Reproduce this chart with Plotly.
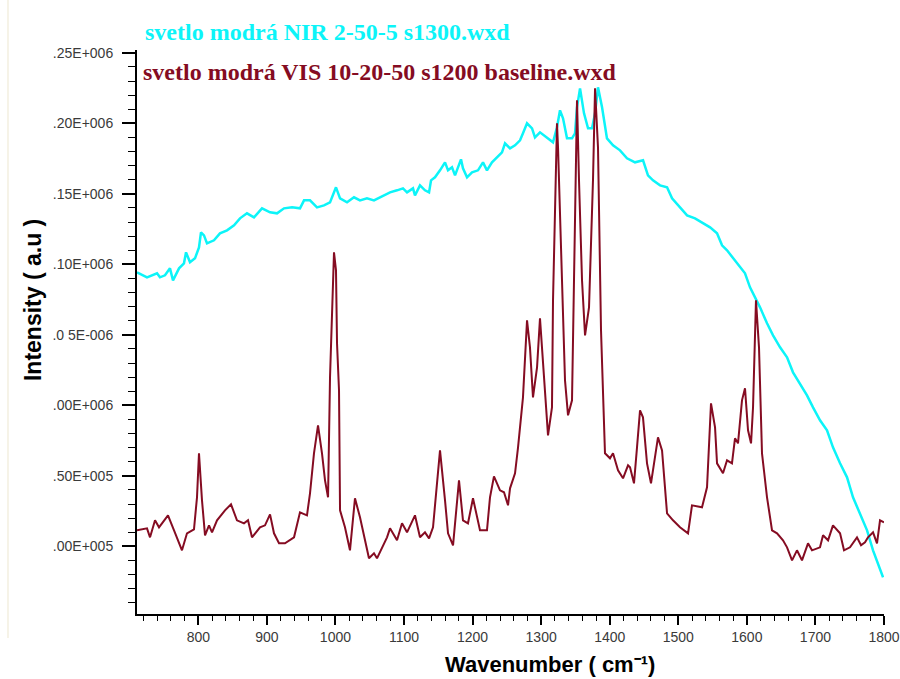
import plotly.graph_objects as go

# ---- data ----
vis_wavenumber = [
    710.6, 725.2, 729.6, 736.9, 742.7, 755.8, 764.6, 776.2, 783.5, 793.7,
    798.1, 801.0, 805.4, 809.8, 815.6, 820.0, 827.3, 838.9, 847.7, 856.4,
    866.6, 872.5, 878.3, 890.0, 897.3, 904.6, 910.4, 917.7, 926.4, 939.6,
    948.3, 958.5, 962.9, 968.7, 974.6, 980.4, 984.8, 989.2, 992.1, 997.9,
    1000.8, 1002.3, 1005.2, 1006.7, 1013.9, 1021.2, 1028.5, 1035.8, 1048.9, 1056.2,
    1060.6, 1067.9, 1075.2,
    1079.6, 1089.8, 1097.1, 1104.4, 1116.0, 1123.3, 1130.6, 1136.5, 1142.3, 1148.1,
    1152.5, 1159.8, 1164.2, 1171.5, 1177.3, 1180.2, 1186.0, 1193.3, 1200.6, 1206.5,
    1210.8, 1221.0, 1225.4, 1231.2, 1240.0, 1245.8, 1251.7, 1254.6, 1261.9, 1266.3,
    1273.5, 1279.4, 1283.7, 1288.1, 1294.0, 1298.3, 1302.7, 1310.0, 1315.8, 1317.3,
    1323.1, 1324.6, 1330.4, 1334.8, 1339.2, 1345.0, 1347.9, 1352.3, 1355.2, 1359.6,
    1364.0, 1369.8, 1375.6, 1378.6, 1382.9, 1387.3, 1393.1, 1400.4, 1404.8, 1412.1,
    1419.4, 1426.7,
    1429.6, 1435.4, 1439.8, 1444.2, 1448.5, 1454.4, 1460.2, 1466.1, 1470.4, 1476.3,
    1483.6, 1492.3, 1502.5, 1514.2, 1520.0, 1534.6, 1541.9, 1547.7, 1553.6, 1556.5,
    1565.2, 1571.1, 1578.3, 1582.7, 1587.1, 1592.9, 1597.3, 1601.7, 1606.1, 1609.0,
    1613.3, 1617.7, 1622.1, 1629.4, 1636.7, 1644.0, 1652.7, 1658.6, 1665.9, 1673.1,
    1680.4, 1689.2, 1695.0, 1706.7, 1711.1, 1718.4, 1725.6, 1735.9, 1741.7, 1750.4,
    1760.6, 1766.5, 1772.3, 1776.7, 1784.0, 1789.8, 1794.2, 1800.0,
]
vis_intensity = [
    911350, 912770, 906380, 918440, 913470, 921990, 911350, 897160, 909220, 912060,
    934750, 965960, 932620, 907800, 914890, 909930, 918440, 925530, 929790, 918440,
    916310, 918440, 906380, 913470, 914890, 922690, 909220, 902130, 902130, 906380,
    924110, 921990, 937590, 965960, 985810, 965960, 946810, 934750, 1019850, 1108500,
    1095740, 1043970, 1010640, 925530, 913470, 897160, 934040, 920570, 891490, 895040,
    891490, 899290, 906380,
    912770, 904260, 916310, 909930, 921990, 906380, 909930, 905670, 913470, 941840,
    968080, 932620, 909220, 900710, 930500, 946810, 918440, 916310, 934040, 920570,
    911350, 911350, 934750, 949640, 939720, 938300, 929080, 941130, 951770, 970210,
    1005670, 1060280, 1041130, 1005670, 1026950, 1061700, 1029780, 978720, 998580, 1074460,
    1200000, 1182970, 1088650, 1017730, 992910, 1003540, 1088650, 1216300, 1159570, 1088650,
    1049640, 1069500, 1159570, 1224810, 1182970, 1053190, 965960, 962410, 965960, 953900,
    948230, 957450,
    956030, 944680, 970210, 996450, 991490, 958860, 944680, 963120, 977300, 968080,
    923400, 918440, 913470, 909220, 929080, 927660, 941840, 1001420, 984390, 958860,
    951770, 960990, 958860, 976590, 973050, 1003540, 1012050, 982270, 973050, 998580,
    1074460, 1041130, 965960, 934750, 911350, 909220, 904260, 899290, 890070, 897160,
    890070, 902130, 897160, 899290, 907800, 904260, 914890, 909220, 897160, 899290,
    906380, 900710, 902840, 906380, 909930, 902130, 918440, 917020,
]

nir_wavenumber = [
    710.6, 725.2, 739.8, 744.1, 751.4, 758.7, 763.1, 771.9, 779.1, 782.1,
    787.9, 795.2, 801.0, 803.9, 808.3, 812.7, 822.9, 831.6, 841.9, 852.1,
    860.8, 871.0, 881.2, 892.9, 904.6, 914.8, 925.0, 936.7, 948.3, 954.2,
    962.9, 973.1, 983.3, 992.1, 1000.8, 1006.7, 1016.9, 1027.1, 1035.8, 1046.0,
    1056.2, 1065.0, 1075.2,
    1079.6, 1089.8, 1098.5, 1104.4, 1113.1, 1116.0, 1123.3, 1130.6, 1136.5, 1139.4,
    1145.2, 1152.5, 1159.8, 1164.2, 1170.0, 1174.4, 1183.1, 1186.0, 1191.9, 1199.2,
    1207.9, 1215.2, 1221.0, 1228.3, 1235.6, 1242.9, 1247.3, 1254.6, 1261.9, 1269.2,
    1273.5, 1279.4, 1286.7, 1291.0, 1298.3,
    1308.5, 1317.3, 1323.1, 1327.5, 1331.9, 1337.7, 1345.0,
    1349.4, 1352.3, 1356.7, 1362.5, 1368.4, 1374.2, 1378.6, 1382.9, 1388.8, 1396.0,
    1404.8, 1415.0,
    1425.2, 1436.9, 1448.6, 1455.8, 1463.1, 1473.4, 1483.6, 1490.9, 1499.6, 1512.8,
    1524.4, 1536.1, 1546.3, 1556.5, 1563.8, 1571.1, 1579.9, 1590.1, 1597.3, 1604.6,
    1611.9, 1619.2, 1629.4, 1638.2, 1648.4, 1658.6, 1667.3, 1677.5, 1687.7, 1696.5,
    1706.7, 1716.9, 1725.6, 1735.9, 1746.1, 1754.8, 1765.0, 1775.3, 1784.0, 1791.3,
    1798.6,
]
nir_intensity = [
    1094320, 1090770, 1093610, 1090770, 1092190, 1097160, 1088650, 1097160, 1100700, 1108500,
    1101410, 1104250, 1112050, 1122690, 1120560, 1114890, 1117020, 1121980, 1124110, 1127650,
    1132620, 1136160, 1133330, 1139710, 1136870, 1136160, 1139710, 1140420, 1139710, 1145380,
    1145380, 1140420, 1141840, 1143960, 1154600, 1146800, 1143960, 1147510, 1145380, 1146800,
    1145380, 1147510, 1150350,
    1151060, 1152480, 1153890, 1151060, 1153890, 1148930, 1156020, 1152480, 1151060, 1159570,
    1161700, 1166660, 1172330, 1166660, 1168790, 1163110, 1174460, 1168080, 1161700, 1165240,
    1166660, 1172330, 1166660, 1172330, 1175880, 1179420, 1185810, 1182260, 1184390, 1187940,
    1192900, 1200000, 1196450, 1190060, 1193610,
    1190060, 1186520, 1197150, 1209210, 1203540, 1189350, 1189350,
    1192900, 1211340, 1224810, 1207080, 1196450, 1196450, 1207080, 1225520, 1211340, 1189350,
    1184390, 1180840,
    1175170, 1172330, 1173750, 1163110, 1159570, 1156020, 1154600, 1146800, 1141840, 1134750,
    1132620, 1129070, 1126230, 1121980, 1113470, 1109920, 1104250, 1097870, 1093610, 1083680,
    1076590, 1069500, 1058150, 1049640, 1041130, 1034040, 1023400, 1015600, 1007090, 998580,
    989360, 982270, 970210, 958860, 948930, 934750, 923400, 911350, 897160, 887940,
    878010,
]

x_ticks = [800, 900, 1000, 1100, 1200, 1300, 1400, 1500, 1600, 1700, 1800]
y_tickvals = [900000, 950000, 1000000, 1050000, 1100000, 1150000, 1200000, 1250000]
y_ticktext = [".00E+005", ".50E+005", ".00E+006", ".0 5E-006",
              ".10E+006", ".15E+006", ".20E+006", ".25E+006"]

name_nir = "svetlo modrá NIR 2-50-5 s1300.wxd"
name_vis = "svetlo modrá VIS 10-20-50 s1200 baseline.wxd"

CYAN = "#0CF4F8"
RED = "#850C22"

fig = go.Figure()
fig.add_trace(go.Scatter(x=nir_wavenumber, y=nir_intensity, mode="lines",
                         line=dict(color=CYAN, width=2.5), name=name_nir))
fig.add_trace(go.Scatter(x=vis_wavenumber, y=vis_intensity, mode="lines",
                         line=dict(color=RED, width=2), name=name_vis))

x_tick_font = dict(family="Liberation Sans, Arial, sans-serif", size=14, color="#3a3a3a")
y_tick_font = dict(family="Liberation Sans, Arial, sans-serif", size=14, color="#3a3a3a")

fig.update_layout(
    width=900, height=679,
    margin=dict(l=137, r=16, t=50, b=65),
    paper_bgcolor="white", plot_bgcolor="white",
    showlegend=False,
    xaxis=dict(
        range=[710.6, 1800], tickvals=x_ticks, ticks="outside", ticklen=9,
        tickwidth=2, tickcolor="black", showline=True, linecolor="black",
        linewidth=2, showgrid=False, zeroline=False, tickfont=x_tick_font,
        automargin=False,
        minor=dict(dtick=20, tick0=700, ticks="outside", ticklen=5,
                   tickcolor="black", tickwidth=1, showgrid=False),
    ),
    yaxis=dict(
        range=[852000, 1252000], tickvals=y_tickvals, ticktext=y_ticktext,
        ticks="outside", ticklen=13, tickwidth=2, tickcolor="black",
        showline=True, linecolor="black", linewidth=2, showgrid=False,
        zeroline=False, tickfont=y_tick_font, automargin=False,
        ticklabelstandoff=6,
        minor=dict(dtick=10000, tick0=850000, ticks="outside", ticklen=7,
                   tickcolor="black", tickwidth=1, showgrid=False),
    ),
)

annots = [
    dict(text="<b>" + name_nir + "</b>", x=0.008, y=1.032, xref="paper", yref="paper",
         xanchor="left", yanchor="middle", showarrow=False,
         font=dict(family="Liberation Serif, Times New Roman, serif", size=24, color=CYAN)),
    dict(text="<b>" + name_vis + "</b>", x=0.0054, y=0.961, xref="paper", yref="paper",
         xanchor="left", yanchor="middle", showarrow=False,
         font=dict(family="Liberation Serif, Times New Roman, serif", size=24, color=RED)),
    dict(text="<b>Intensity ( a.u )</b>", x=-0.139, y=0.557, xref="paper", yref="paper",
         xanchor="center", yanchor="middle", textangle=-90, showarrow=False,
         font=dict(family="Liberation Sans, Arial, sans-serif", size=23, color="black")),
    dict(text="<b>Wavenumber ( cm⁻¹)</b>", x=0.553, y=-0.0887, xref="paper",
         yref="paper", xanchor="center", yanchor="middle", showarrow=False,
         font=dict(family="Liberation Sans, Arial, sans-serif", size=22, color="black")),
]
fig.update_layout(annotations=annots)

fig.add_shape(type="line", xref="paper", yref="paper",
              x0=-0.1727, x1=-0.1727, y0=-0.0426, y1=1.0887,
              line=dict(color="#EDE7D0", width=1))

fig.write_html("out.html")
